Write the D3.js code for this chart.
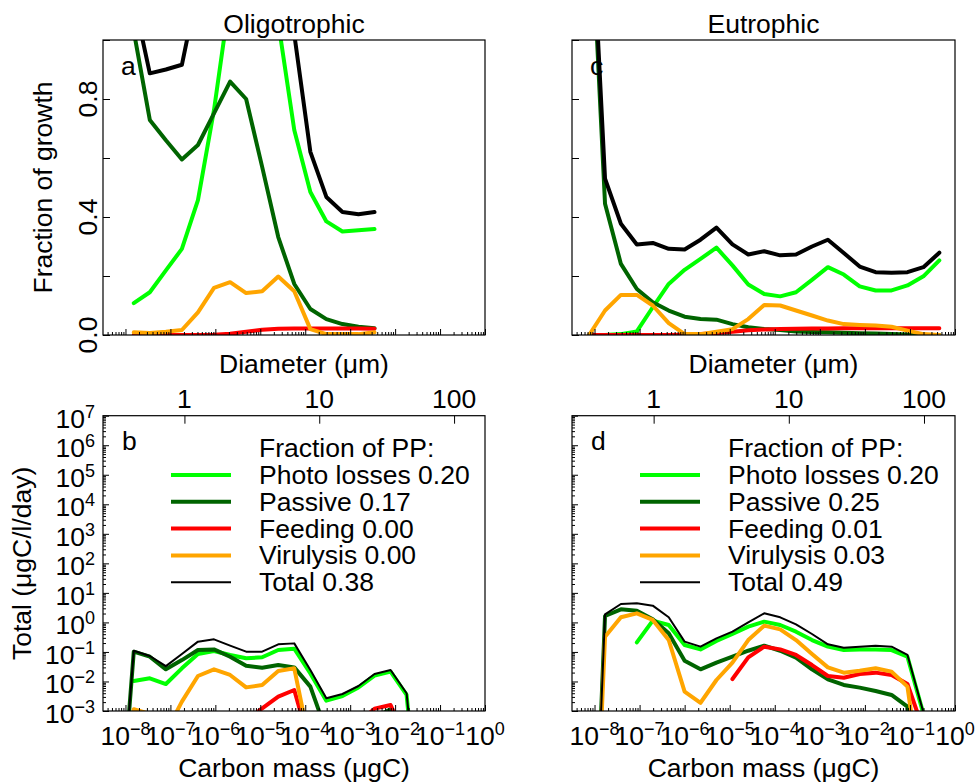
<!DOCTYPE html>
<html><head><meta charset="utf-8">
<script src="https://cdn.jsdelivr.net/npm/d3@7"></script>
<style>
body{margin:0;background:#fff}
svg text{font-family:"Liberation Sans",Arial,Helvetica,sans-serif;fill:#000}
</style>
</head><body>
<svg id="chart" width="975" height="783"></svg>
<script>
// ---------------- DATA ----------------
const panelTitles = ["Oligotrophic", "Eutrophic"];
const topLetters = ["a", "c"];
const bottomLetters = ["b", "d"];
const seriesNames = ["Photo losses", "Passive", "Feeding", "Virulysis", "Total"];
const seriesColors = ["#00ff00", "#006400", "#ff0000", "#ffa500", "#000000"];
const fractionPPOligo = ["0.20", "0.17", "0.00", "0.00", "0.38"];
const fractionPPEutro = ["0.20", "0.25", "0.01", "0.03", "0.49"];

// carbon mass grid (µgC)
const massOligo = [6.73e-9, 1.53e-8, 3.48e-8, 7.93e-8, 1.80e-7, 4.10e-7, 9.33e-7, 2.13e-6, 4.84e-6, 1.10e-5,
  2.51e-5, 5.70e-5, 1.30e-4, 2.95e-4, 6.73e-4, 1.53e-3, 3.48e-3, 7.93e-3, 1.80e-2, 4.10e-2];
const massEutro = [7.59e-9, 1.71e-8, 3.85e-8, 8.69e-8, 1.96e-7, 4.43e-7, 9.98e-7, 2.25e-6, 5.08e-6, 1.15e-5,
  2.58e-5, 5.83e-5, 1.32e-4, 2.96e-4, 6.70e-4, 1.51e-3, 3.40e-3, 7.67e-3, 1.73e-2, 3.91e-2, 8.81e-2, 0.199, 0.449];

// fraction of growth (top panels)
const fracPhotoOligo = [null, 0.108, 0.145, 0.219, 0.292, 0.457, 0.763, 1.15, 1.5, 1.3, 1.06, 0.695, 0.485, 0.385, 0.351, 0.355, 0.359, null, null, null];
const fracPassiveOligo = [null, 1.03, 0.729, 0.66, 0.595, 0.644, 0.751, 0.859, 0.80, 0.57, 0.332, 0.173, 0.088, 0.054, 0.037, 0.028, 0.023, null, null, null];
const fracFeedingOligo = [null, 0, 0, 0, 0, 0, 0.001, 0.004, 0.011, 0.018, 0.021, 0.022, 0.022, 0.022, 0.022, 0.022, 0.021, null, null, null];
const fracVirusOligo = [null, 0.009, 0.007, 0.011, 0.017, 0.077, 0.16, 0.179, 0.142, 0.148, 0.198, 0.148, 0.02, 0.003, 0.003, 0.003, 0.009, null, null, null];
const fracTotalOligo = [null, 1.14, 0.887, 0.90, 0.916, 1.18, 1.70, 2.18, 2.45, 2.05, 1.62, 1.02, 0.621, 0.468, 0.417, 0.409, 0.417, null, null, null];

const fracPhotoEutro = [0, 0, 0.003, 0.012, 0.094, 0.173, 0.221, 0.258, 0.296, 0.236, 0.171, 0.139, 0.131, 0.145, 0.187, 0.23, 0.205, 0.165, 0.151, 0.151, 0.168, 0.199, 0.253];
const fracPassiveEutro = [1.55, 0.445, 0.241, 0.156, 0.111, 0.083, 0.062, 0.054, 0.052, 0.037, 0.026, 0.02, 0.017, 0.012, 0.01, 0.009, 0.008, 0.006, 0.005, 0.003, 0.002, 0, 0];
const fracFeedingEutro = [0, 0, 0, 0, 0, 0, 0.001, 0.003, 0.006, 0.011, 0.016, 0.019, 0.02, 0.021, 0.022, 0.022, 0.023, 0.023, 0.023, 0.023, 0.023, 0.023, 0.023];
const fracVirusEutro = [0, 0.083, 0.136, 0.136, 0.10, 0.04, 0.003, 0.003, 0.011, 0.02, 0.054, 0.102, 0.10, 0.083, 0.066, 0.049, 0.037, 0.034, 0.032, 0.028, 0.015, 0.003, 0];
const fracTotalEutro = [1.6, 0.53, 0.377, 0.307, 0.312, 0.292, 0.29, 0.323, 0.364, 0.307, 0.273, 0.284, 0.27, 0.273, 0.30, 0.323, 0.278, 0.232, 0.213, 0.211, 0.213, 0.23, 0.279];

// totals µgC/l/day (bottom panels)
const rateTotalOligo = [1e-8, 0.110, 0.073, 0.033, 0.085, 0.223, 0.267, 0.163, 0.102, 0.102, 0.181, 0.195, 0.0244, 0.00269, 0.00377, 0.00703, 0.0179, 0.0244, 0.0040, 1e-8];
const ratePhotoOligo = [0, 0.0104, 0.0128, 0.0082, 0.0279, 0.085, 0.108, 0.079, 0.061, 0.066, 0.116, 0.129, 0.0188, 0.00224, 0.00322, 0.0063, 0.0157, 0.0215, 0.0035, 1e-8];
const ratePassiveOligo = [1e-8, 0.102, 0.069, 0.0258, 0.053, 0.116, 0.122, 0.069, 0.0343, 0.0293, 0.036, 0.030, 0.0067, 2e-4, 1e-4, 2e-4, 6e-4, 1.15e-3, 3e-4, 1e-8];
const rateFeedingOligo = [0, 0, 0, 0, 0, 0, 0, 1e-5, 4.8e-4, 1.23e-3, 3.05e-3, 5.14e-3, 6e-5, 1e-5, 1e-5, 4e-4, 1.2e-3, 1.6e-3, 1e-4, 1e-8];
const rateVirusOligo = [1e-8, 1.15e-3, 8e-4, 1.9e-4, 2.07e-3, 0.0153, 0.0258, 0.0166, 0.0063, 0.0076, 0.0226, 0.0279, 6e-5, 1e-6, 1e-6, 1e-6, 1e-6, 1e-6, 1e-6, 1e-8];

const rateTotalEutro = [1e-13, 1.876, 4.2, 4.42, 3.69, 1.49, 0.223, 0.151, 0.288, 0.485, 1.0, 2.03, 1.49, 0.86, 0.405, 0.181, 0.139, 0.151, 0.163, 0.151, 0.079, 9e-4, 1e-8];
const ratePhotoEutro = [0, 0, 0, 0.211, 1.15, 0.817, 0.172, 0.122, 0.234, 0.405, 0.718, 1.06, 0.817, 0.485, 0.253, 0.151, 0.116, 0.122, 0.122, 0.116, 0.069, 8e-4, 1e-8];
const ratePassiveEutro = [1e-13, 1.65, 2.77, 2.5, 1.27, 0.427, 0.0506, 0.0258, 0.0434, 0.069, 0.110, 0.163, 0.110, 0.064, 0.0258, 0.0118, 0.0076, 0.0062, 0.00475, 0.0035, 0.0014, 1e-6, 1e-8];
const rateFeedingEutro = [0, 0, 0, 0, 0, 0, 0, 0, 0, 0.0121, 0.0656, 0.151, 0.122, 0.079, 0.036, 0.0153, 0.0134, 0.0179, 0.0199, 0.0166, 0.0082, 2.3e-4, 1e-8];
const rateVirusEutro = [1e-13, 0.329, 1.49, 2.03, 1.21, 0.253, 0.00452, 0.0019, 0.0112, 0.0434, 0.253, 0.776, 0.582, 0.253, 0.085, 0.030, 0.0199, 0.0232, 0.0279, 0.0215, 0.0067, 1e-6, 1e-8];

// axes
const massDomain = [Math.pow(10, -8.5), 1];
const massTickExponents = [-8, -7, -6, -5, -4, -3, -2, -1, 0];
const rateDomain = [1e-3, 1e7];
const rateTickExponents = [7, 6, 5, 4, 3, 2, 1, 0, -1, -2, -3];
const fracTicks = [0, 0.2, 0.4, 0.6, 0.8, 1.0];
const fracTickLabels = ["0.0", "0.4", "0.8"];
const fracLabelValues = [0, 0.4, 0.8];
const diameterTicks = [1, 10, 100];
const carbonPerD3 = 2.05e-7; // µgC per µm^3 (diameter cubed)

// ---------------- DRAW ----------------
const svg = d3.select("#chart");
const FS = 26.5, SUP = 18;
const panelsX = [[103, 485], [572, 955]];
const topY = [40, 335], botY = [415.7, 711];

const panels = [
  {mass: massOligo, frac: [fracPhotoOligo, fracPassiveOligo, fracFeedingOligo, fracVirusOligo, fracTotalOligo],
   rate: [ratePhotoOligo, ratePassiveOligo, rateFeedingOligo, rateVirusOligo, rateTotalOligo], pp: fractionPPOligo},
  {mass: massEutro, frac: [fracPhotoEutro, fracPassiveEutro, fracFeedingEutro, fracVirusEutro, fracTotalEutro],
   rate: [ratePhotoEutro, ratePassiveEutro, rateFeedingEutro, rateVirusEutro, rateTotalEutro], pp: fractionPPEutro}
];

function supText(g, x, y, exp, anchor) {
  const t = g.append("text").attr("x", x).attr("y", y).attr("text-anchor", anchor).style("font-size", FS + "px");
  t.append("tspan").text("10");
  t.append("tspan").attr("dy", -10).style("font-size", SUP + "px").text(exp < 0 ? "\u2212" + (-exp) : String(exp));
  return t;
}

const massMinor = [];
for (let k = -9; k <= 0; k++) for (let j = 2; j <= 9; j++) {
  const v = j * Math.pow(10, k);
  if (v >= massDomain[0] && v <= massDomain[1]) massMinor.push(v);
}
const massMajor = massTickExponents.map(e => Math.pow(10, e));
const rateMinor = [];
for (let k = -3; k < 7; k++) for (let j = 2; j <= 9; j++) rateMinor.push(j * Math.pow(10, k));
const rateMajor = rateTickExponents.map(e => Math.pow(10, e));

panels.forEach((p, pi) => {
  const [x0, x1] = panelsX[pi];
  const x = d3.scaleLog().domain(massDomain).range([x0, x1]);
  const yT = d3.scaleLinear().domain([0, 1]).range([topY[1], topY[0]]);
  const yB = d3.scaleLog().domain(rateDomain).range([botY[1], botY[0]]);
  const dScale = d3.scaleLog()
    .domain([Math.cbrt(massDomain[0] / carbonPerD3), Math.cbrt(massDomain[1] / carbonPerD3)])
    .range([x0, x1]);

  // clip paths
  const defs = svg.append("defs");
  defs.append("clipPath").attr("id", "ct" + pi).append("rect")
    .attr("x", x0).attr("y", topY[0]).attr("width", x1 - x0).attr("height", topY[1] - topY[0]);
  defs.append("clipPath").attr("id", "cb" + pi).append("rect")
    .attr("x", x0).attr("y", botY[0]).attr("width", x1 - x0).attr("height", botY[1] - botY[0]);

  // ----- top panel -----
  const gT = svg.append("g");
  const idx = d3.range(p.mass.length);
  p.frac.forEach((arr, si) => {
    const l = d3.line().defined(i => arr[i] !== null).x(i => x(p.mass[i])).y(i => yT(arr[i]));
    gT.append("path").attr("d", l(idx)).attr("clip-path", `url(#ct${pi})`)
      .attr("fill", "none").attr("stroke", seriesColors[si]).attr("stroke-width", 4)
      .attr("stroke-linejoin", "round").attr("stroke-linecap", "round");
  });
  // ticks
  const axMinT = gT.append("g").attr("transform", `translate(0,${topY[1]})`)
    .call(d3.axisBottom(x).tickValues(massMinor).tickSize(-3).tickFormat(""));
  const axMajT = gT.append("g").attr("transform", `translate(0,${topY[1]})`)
    .call(d3.axisBottom(x).tickValues(massMajor).tickSize(-6).tickFormat(""));
  const axYT = gT.append("g").attr("transform", `translate(${x0},0)`)
    .call(d3.axisLeft(yT).tickValues(fracTicks).tickSize(-7).tickFormat(""));
  [axMinT, axMajT, axYT].forEach(a => { a.select(".domain").remove(); a.selectAll("line").attr("stroke", "#000").attr("stroke-width", 1); });
  gT.append("rect").attr("x", x0).attr("y", topY[0]).attr("width", x1 - x0).attr("height", topY[1] - topY[0])
    .attr("fill", "none").attr("stroke", "#000").attr("stroke-width", 1.2);
  if (pi === 0) {
    fracLabelValues.forEach((v, k) => {
      gT.append("text").attr("transform", `translate(97,${yT(v)}) rotate(-90)`)
        .attr("text-anchor", "middle").style("font-size", FS + "px").text(fracTickLabels[k]);
    });
    gT.append("text").attr("transform", `translate(52,${(topY[0] + topY[1]) / 2}) rotate(-90)`)
      .attr("text-anchor", "middle").style("font-size", FS + "px").text("Fraction of growth");
    svg.append("text").attr("transform", `translate(31,${(botY[0] + botY[1]) / 2}) rotate(-90)`)
      .attr("text-anchor", "middle").style("font-size", FS + "px").text("Total (\u03bcgC/l/day)");
  }
  gT.append("text").attr("x", (x0 + x1) / 2).attr("y", 33).attr("text-anchor", "middle")
    .style("font-size", FS + "px").text(panelTitles[pi]);
  gT.append("text").attr("x", x0 + 18).attr("y", 75).style("font-size", FS + "px").text(topLetters[pi]);
  gT.append("text").attr("x", (x0 + x1) / 2 + 10).attr("y", 373).attr("text-anchor", "middle")
    .style("font-size", FS + "px").text("Diameter (\u03bcm)");

  // ----- bottom panel -----
  const gB = svg.append("g");
  p.rate.forEach((arr, si) => {
    const l = d3.line().defined(i => arr[i] > 0).x(i => x(p.mass[i])).y(i => yB(arr[i]));
    gB.append("path").attr("d", l(idx)).attr("clip-path", `url(#cb${pi})`)
      .attr("fill", "none").attr("stroke", seriesColors[si]).attr("stroke-width", si === 4 ? 2 : 4)
      .attr("stroke-linejoin", "round").attr("stroke-linecap", "round");
  });
  const axMinB = gB.append("g").attr("transform", `translate(0,${botY[1]})`)
    .call(d3.axisBottom(x).tickValues(massMinor).tickSize(-3).tickFormat(""));
  const axMajB = gB.append("g").attr("transform", `translate(0,${botY[1]})`)
    .call(d3.axisBottom(x).tickValues(massMajor).tickSize(-6).tickFormat(""));
  const axYmin = gB.append("g").attr("transform", `translate(${x0},0)`)
    .call(d3.axisLeft(yB).tickValues(rateMinor).tickSize(-3).tickFormat(""));
  const axYmaj = gB.append("g").attr("transform", `translate(${x0},0)`)
    .call(d3.axisLeft(yB).tickValues(rateMajor).tickSize(-6).tickFormat(""));
  const axD = gB.append("g").attr("transform", `translate(0,${botY[0]})`)
    .call(d3.axisTop(dScale).tickValues(diameterTicks).tickSize(-8).tickFormat(""));
  [axMinB, axMajB, axYmin, axYmaj, axD].forEach(a => { a.select(".domain").remove(); a.selectAll("line").attr("stroke", "#000").attr("stroke-width", 1); });
  gB.append("rect").attr("x", x0).attr("y", botY[0]).attr("width", x1 - x0).attr("height", botY[1] - botY[0])
    .attr("fill", "none").attr("stroke", "#000").attr("stroke-width", 1.2);

  diameterTicks.forEach(d => {
    gB.append("text").attr("x", dScale(d)).attr("y", 408).attr("text-anchor", "middle")
      .style("font-size", FS + "px").text(String(d));
  });
  massTickExponents.forEach(e => supText(gB, x(Math.pow(10, e)), 745, e, "middle"));
  if (pi === 0) rateTickExponents.forEach(e => supText(gB, 95, yB(Math.pow(10, e)) + 12, e, "end"));
  gB.append("text").attr("x", (x0 + x1) / 2).attr("y", 777).attr("text-anchor", "middle")
    .style("font-size", FS + "px").text("Carbon mass (\u03bcgC)");
  gB.append("text").attr("x", x0 + 19).attr("y", 450).style("font-size", FS + "px").text(bottomLetters[pi]);

  // legend
  const lg = gB.append("g");
  lg.append("text").attr("x", x0 + 156).attr("y", 457).style("font-size", FS + "px").text("Fraction of PP:");
  seriesNames.forEach((name, si) => {
    const yy = 475 + si * 26.8;
    lg.append("line").attr("x1", x0 + 68).attr("x2", x0 + 128).attr("y1", yy).attr("y2", yy)
      .attr("stroke", seriesColors[si]).attr("stroke-width", si === 4 ? 2 : 4);
    lg.append("text").attr("x", x0 + 156).attr("y", yy + 9).style("font-size", FS + "px")
      .text(name + " " + p.pp[si]);
  });
});
</script>
</body></html>
